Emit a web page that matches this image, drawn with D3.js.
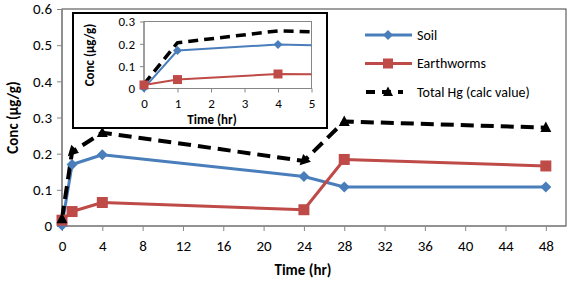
<!DOCTYPE html>
<html>
<head>
<meta charset="utf-8">
<script src="https://cdn.jsdelivr.net/npm/d3@7"></script>
<style>
  body { margin: 0; background: #fff; }
  svg { display: block; font-family: Carlito, Lato, sans-serif; }
</style>
</head>
<body>
<svg id="chart" width="568" height="281"></svg>
<script>
"use strict"

// Data
const hours = [0, 1, 4, 24, 28, 48];
const soil = [0.002, 0.17, 0.197, 0.137, 0.108, 0.108];
const earthworms = [0.016, 0.04, 0.065, 0.045, 0.184, 0.166];
const totalHg = [0.02, 0.205, 0.258, 0.18, 0.289, 0.272];
const mainYTicks = [0, 0.1, 0.2, 0.3, 0.4, 0.5, 0.6];
const mainXTicks = [0, 4, 8, 12, 16, 20, 24, 28, 32, 36, 40, 44, 48];
const insetYTicks = [0, 0.1, 0.2, 0.3];
const insetXTicks = [0, 1, 2, 3, 4, 5];
const seriesNames = ["Soil", "Earthworms", "Total Hg (calc value)"];

const BLUE = "#4a7ebb", RED = "#be4b48", AXIS = "#868686";

const svg = d3.select("#chart");

const series = [
    {name: seriesNames[0], vals: soil, color: BLUE, marker: "diamond", dash: null},
    {name: seriesNames[1], vals: earthworms, color: RED, marker: "square", dash: null},
    {name: seriesNames[2], vals: totalHg, color: "#000", marker: "triangle", dash: "12,7"}
];

// Marker paths, drawn around (0,0)
function markerPath(kind, s) {
    if (kind === "diamond") return `M0,${-s}L${s},0L0,${s}L${-s},0Z`;
    if (kind === "square") return `M${-s},${-s}H${s}V${s}H${-s}Z`;
    return `M0,${-s * 1.1}L${s},${s * 0.8}L${-s},${s * 0.8}Z`;
}

// Total Hg markers at these points look like arrowheads pointing down-left
const arrowIdx = [1, 3];

function drawPanel(g, opt) {
    let x = d3.scaleLinear().domain(opt.xDomain).range([opt.left, opt.right]);
    let y = d3.scaleLinear().domain(opt.yDomain).range([opt.bottom, opt.top]);

    // plot border
    g.append("rect")
        .attr("x", opt.left).attr("y", opt.top)
        .attr("width", opt.right - opt.left).attr("height", opt.bottom - opt.top)
        .style("fill", "#fff").style("stroke", opt.border).style("stroke-width", 1);

    // axes
    let yAxis = g.append("g").attr("transform", `translate(${opt.left},0)`)
        .call(d3.axisLeft(y).tickValues(opt.yTicks).tickSize(opt.tick).tickPadding(5)
            .tickFormat(d => d === 0 ? "0" : d3.format(".1f")(d)));
    let xAxis = g.append("g").attr("transform", `translate(0,${opt.bottom})`)
        .call(d3.axisBottom(x).tickValues(opt.xTicks).tickSize(opt.tick).tickPadding(opt.xPad)
            .tickFormat(d3.format("d")));
    [yAxis, xAxis].forEach(a => {
        a.select(".domain").attr("stroke", AXIS).attr("stroke-width", 1.2);
        a.selectAll(".tick line").attr("stroke", AXIS);
        a.selectAll("text").attr("fill", "#000").style("font-size", opt.font + "px")
            .style("font-family", "Carlito, Lato, sans-serif");
    });
    yAxis.select(".domain").attr("d", `M0,${opt.top}V${opt.bottom}`);
    xAxis.select(".domain").attr("d", `M${opt.left},0H${opt.right}`);

    // lines are clipped to the plot area, like Excel does
    let clipId = opt.id + "-clip";
    g.append("clipPath").attr("id", clipId).append("rect")
        .attr("x", opt.left - 8).attr("y", opt.top - 8)
        .attr("width", opt.right - opt.left + 8).attr("height", opt.bottom - opt.top + 16);

    let line = d3.line().x((d, i) => x(hours[i])).y(d => y(d));
    let data = g.append("g");

    series.forEach(s => {
        data.append("path")
            .attr("d", line(s.vals))
            .attr("clip-path", `url(#${clipId})`)
            .style("fill", "none")
            .style("stroke", s.color)
            .style("stroke-width", s.dash ? opt.dashWidth : opt.lineWidth)
            .style("stroke-dasharray", s.dash ? opt.dash : null)
            .style("stroke-linejoin", "round");
    });
    series.forEach(s => {
        if (s.marker === "triangle" && !opt.triangles) return;
        let pts = s.vals.map((v, i) => ({t: hours[i], v: v, i: i})).filter(d => d.t <= opt.xDomain[1]);
        data.selectAll(null).data(pts).enter().append("path")
            .attr("d", markerPath(s.marker, opt.marker))
            .attr("transform", d => {
                let r = (s.marker === "triangle" && arrowIdx.includes(d.i)) ? " rotate(-135)" : "";
                return `translate(${x(d.t)},${y(d.v)})${r}`;
            })
            .style("fill", s.color)
            .style("stroke", "none");
    });

    // axis titles
    g.append("text")
        .attr("transform", `translate(${opt.yTitleX},${(opt.top + opt.bottom) / 2}) rotate(-90)`)
        .attr("text-anchor", "middle").attr("dy", "0.35em")
        .style("font-size", opt.titleFont + "px").style("font-weight", "bold")
        .text("Conc (\u03bcg/g)");
    g.append("text")
        .attr("x", opt.xTitleX).attr("y", opt.xTitleY)
        .attr("text-anchor", "middle").attr("dy", "0.35em")
        .style("font-size", opt.titleFont + "px").style("font-weight", "bold")
        .text("Time (hr)");
    return {x, y};
}

// Main chart
drawPanel(svg.append("g"), {
    id: "main", left: 62, right: 566, top: 9, bottom: 226,
    xDomain: [0, 50], yDomain: [0, 0.6], xTicks: mainXTicks, yTicks: mainYTicks,
    tick: 5, xPad: 9, font: 15, titleFont: 15, border: "#404040",
    lineWidth: 3, dashWidth: 4, dash: "13,7", marker: 5.5, triangles: true,
    yTitleX: 13, xTitleX: 303, xTitleY: 270
});

// Inset box
svg.append("rect")
    .attr("x", 73).attr("y", 13).attr("width", 254).attr("height", 115)
    .style("fill", "#fff").style("stroke", "#000").style("stroke-width", 2);

drawPanel(svg.append("g"), {
    id: "inset", left: 144, right: 311.5, top: 21.5, bottom: 88.5,
    xDomain: [0, 5], yDomain: [0, 0.3], xTicks: insetXTicks, yTicks: insetYTicks,
    tick: 4, xPad: 6, font: 13, titleFont: 13, border: "#868686",
    lineWidth: 2, dashWidth: 3.5, dash: "10,6", marker: 4.5, triangles: false,
    yTitleX: 89, xTitleX: 212, xTitleY: 119
});

// Legend
const legend = svg.append("g");
const legendY = d3.scalePoint().domain(seriesNames).range([35, 92]);
series.forEach(s => {
    let ly = legendY(s.name);
    legend.append("line")
        .attr("x1", s.dash ? 366 : 365).attr("x2", s.dash ? 403 : 412)
        .attr("y1", ly).attr("y2", ly)
        .style("stroke", s.color).style("stroke-width", s.dash ? 4 : 3)
        .style("stroke-dasharray", s.dash ? "9,7" : null);
    legend.append("path")
        .attr("d", markerPath(s.marker, 5))
        .attr("transform", `translate(388,${ly})`)
        .style("fill", s.color);
    legend.append("text")
        .attr("x", 417).attr("y", ly).attr("dy", "0.35em")
        .style("font-size", "14px")
        .text(s.name);
});
</script>
</body>
</html>
